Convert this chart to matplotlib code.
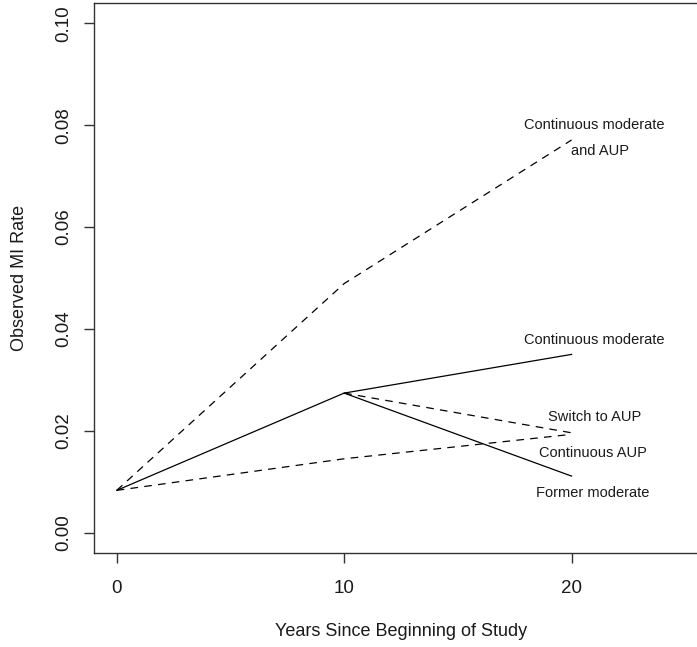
import matplotlib
matplotlib.use("Agg")
import matplotlib.pyplot as plt

plt.rcParams['font.family'] = ['Liberation Sans', 'DejaVu Sans']
plt.rcParams['lines.scale_dashes'] = False

years = [0, 10, 20]
years_late = [10, 20]

cont_mod_aup = [0.0083, 0.0489, 0.0771]
cont_mod = [0.0083, 0.0274, 0.0350]
cont_aup = [0.0083, 0.0145, 0.0193]
switch_aup = [0.0274, 0.0196]
former_mod = [0.0274, 0.0111]

labels = ["Continuous moderate", "and AUP", "Continuous moderate",
          "Switch to AUP", "Continuous AUP", "Former moderate"]
label_x = [21.0, 21.25, 21.0, 21.0, 20.95, 20.95]
label_y = [0.0800, 0.0750, 0.0378, 0.0227, 0.0156, 0.0077]

W, H = 697, 647
fig = plt.figure(figsize=(W / 100, H / 100), dpi=100)
left, right, bottom, top = 94, 708, 553, 3
ax = fig.add_axes([left / W, 1 - bottom / H, (right - left) / W, (bottom - top) / H])

dash = (0, (5.5, 4.5))
lw = 0.9
ax.plot(years, cont_mod_aup, color='black', lw=lw, linestyle=dash)
ax.plot(years, cont_mod, color='black', lw=lw)
ax.plot(years, cont_aup, color='black', lw=lw, linestyle=dash)
ax.plot(years_late, switch_aup, color='black', lw=lw, linestyle=dash)
ax.plot(years_late, former_mod, color='black', lw=lw)

for t, x, y in zip(labels, label_x, label_y):
    ax.text(x, y, t, ha='center', va='center', fontsize=10.5, color='#1a1a1a')

ax.set_xlim(-1, 26)
ax.set_ylim(-0.004, 0.104)
ax.set_xticks([0, 10, 20])
ax.set_xticklabels(["0", "10", "20"])
ax.set_yticks([0.00, 0.02, 0.04, 0.06, 0.08, 0.10])
ax.set_yticklabels(["0.00", "0.02", "0.04", "0.06", "0.08", "0.10"], rotation=90, va='center')

for s in ax.spines.values():
    s.set_color('#333333')
    s.set_linewidth(1.0)
ax.tick_params(axis='both', length=7.5, width=1.0, color='#333333', labelsize=13.5,
               labelcolor='#1a1a1a')
ax.tick_params(axis='x', pad=12)
ax.tick_params(axis='y', pad=8)

fig.text(401 / W, 1 - 631 / H, "Years Since Beginning of Study", ha='center', va='center',
         fontsize=13, color='#1a1a1a')
fig.text(20 / W, 1 - 278 / H, "Observed MI Rate", ha='center', va='center',
         rotation=90, fontsize=13, color='#1a1a1a')

fig.savefig("out.png", dpi=100)
